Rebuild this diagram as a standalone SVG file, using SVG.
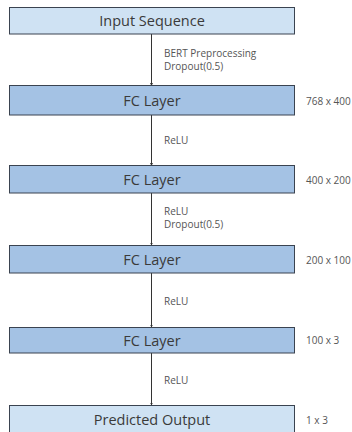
<svg xmlns="http://www.w3.org/2000/svg" width="352" height="432" viewBox="0 0 352 432">
<defs>
<style>
.box{stroke:#3a4350;stroke-width:1}
.light{fill:#cfe2f3}
.dark{fill:#a4c2e4}
.t{font-family:"Open Sans","Noto Sans",sans-serif;font-size:14.5px;fill:#3a3a3a;text-anchor:middle}
.s{font-family:"Open Sans","Noto Sans",sans-serif;font-size:10px;fill:#555}
.c{stroke:#333;stroke-width:1;fill:none;marker-end:url(#ah)}
</style>
<marker id="ah" viewBox="0 0 6 6" refX="5" refY="3" markerWidth="3" markerHeight="3" orient="auto" markerUnits="userSpaceOnUse"><path d="M0,0 L6,3 L0,6 z" fill="#333"/></marker>
</defs>
<rect width="352" height="432" fill="#ffffff"/>
<g id="connectors">
<line class="c" x1="151.5" y1="34" x2="151.5" y2="85.5"/>
<line class="c" x1="151.5" y1="115" x2="151.5" y2="165.5"/>
<line class="c" x1="151.5" y1="193" x2="151.5" y2="245"/>
<line class="c" x1="151.5" y1="273" x2="151.5" y2="327"/>
<line class="c" x1="151.5" y1="353" x2="151.5" y2="405"/>
<text class="s" x="164" y="56.5">BERT Preprocessing</text>
<text class="s" x="164" y="70">Dropout(0.5)</text>
<text class="s" x="164" y="143.5">ReLU</text>
<text class="s" x="164" y="214.5">ReLU</text>
<text class="s" x="164" y="228">Dropout(0.5)</text>
<text class="s" x="164" y="304.5">ReLU</text>
<text class="s" x="164" y="383.5">ReLU</text>
</g>
<g id="input">
<rect class="box light" x="9.5" y="7.5" width="285" height="26.5"/>
<text class="t" x="152" y="26">Input Sequence</text>
</g>
<g id="fc1">
<rect class="box dark" x="9.5" y="85.5" width="285" height="29.5"/>
<text class="t" x="152" y="105.5">FC Layer</text>
<text class="s" x="306" y="104.5">768 x 400</text>
</g>
<g id="fc2">
<rect class="box dark" x="9.5" y="165.5" width="285" height="27.5"/>
<text class="t" x="152" y="184.5">FC Layer</text>
<text class="s" x="306" y="183.5">400 x 200</text>
</g>
<g id="fc3">
<rect class="box dark" x="9.5" y="245.5" width="285" height="27.5"/>
<text class="t" x="152" y="264.5">FC Layer</text>
<text class="s" x="306" y="263.5">200 x 100</text>
</g>
<g id="fc4">
<rect class="box dark" x="9.5" y="327.5" width="285" height="25.5"/>
<text class="t" x="152" y="345.5">FC Layer</text>
<text class="s" x="306" y="343.5">100 x 3</text>
</g>
<g id="output">
<rect class="box light" x="9.5" y="405.5" width="285" height="30"/>
<text class="t" x="152" y="425">Predicted Output</text>
<text class="s" x="306" y="423.5">1 x 3</text>
</g>
</svg>
